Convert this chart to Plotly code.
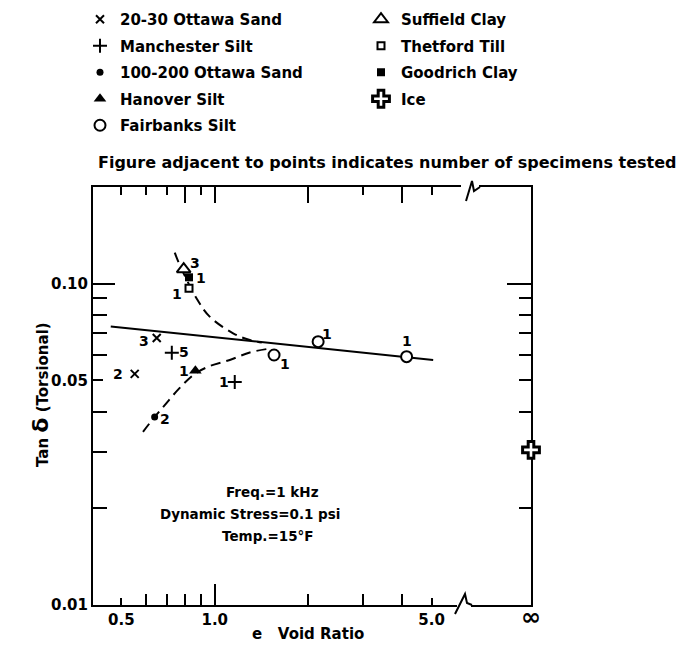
import numpy as np
import plotly.graph_objects as go

# ---------------- data ----------------
sand2030_e = [0.650, 0.552]
sand2030_tan = [0.0678, 0.0524]
sand2030_n = ["3", "2"]

manchester_e = [0.727, 1.16]
manchester_tan = [0.061, 0.0494]
manchester_n = ["5", "1"]

sand100_e = [0.640]
sand100_tan = [0.0385]
sand100_n = ["2"]

hanover_e = [0.866]
hanover_tan = [0.0536]
hanover_n = ["1"]

fairbanks_e = [1.553, 2.154, 4.154]
fairbanks_tan = [0.060, 0.066, 0.0593]
fairbanks_n = ["1", "1", "1"]

suffield_e = [0.794]
suffield_tan = [0.111]
suffield_n = ["3"]

thetford_e = [0.826]
thetford_tan = [0.0968]
thetford_n = ["1"]

goodrich_e = [0.826]
goodrich_tan = [0.1047]
goodrich_n = ["1"]

E_INF = 10.46          # axis position used for e = infinity
ice_e = [E_INF]
ice_tan = [0.0304]

trend_e = [0.462, 5.06]
trend_tan = [0.0736, 0.0579]

upper_e = [0.743, 0.771, 0.873, 0.963, 1.146, 1.297, 1.418]
upper_tan = [0.1249, 0.1144, 0.0901, 0.0790, 0.0701, 0.0668, 0.0656]

lower_e = [0.587, 0.640, 0.690, 0.771, 0.862, 0.963, 1.118, 1.297, 1.471]
lower_tan = [0.0346, 0.0385, 0.0419, 0.0474, 0.0524, 0.0554, 0.0579, 0.0611, 0.0626]

x_tick_vals = [0.5, 1.0, 5.0, E_INF]
x_tick_text = ["0.5", "1.0", "5.0", "<span style='font-size:24px'>∞</span>"]
y_tick_vals = [0.01, 0.05, 0.1]
y_tick_text = ["0.01", "0.05", "0.10"]

# ---------------- styling ----------------
OFF = 8                       # page body margin of the html page
W, H = 686 - OFF, 655 - OFF
L, R, T, B = 85, 155, 179, 50
FONT = "DejaVu Sans"
INK = "black"
xr = [np.log10(0.405), np.log10(E_INF)]
yr = [-2, np.log10(0.2)]
PLOT_H = H - T - B


def px(xs, ys):
    """screen pixel (reference picture) -> paper coordinates"""
    return ((xs - OFF) - L) / (W - L - R), 1 - ((ys - OFF) - T) / PLOT_H


def bfont(size):
    return dict(family=FONT, size=size, color=INK, weight="bold")


fig = go.Figure()

# curves
fig.add_trace(go.Scatter(x=trend_e, y=trend_tan, mode="lines",
                         line=dict(color=INK, width=2), showlegend=False, hoverinfo="skip"))
fig.add_trace(go.Scatter(x=upper_e, y=upper_tan, mode="lines", line_shape="spline",
                         line=dict(color=INK, width=2, dash="10px,6px"), showlegend=False,
                         hoverinfo="skip"))
fig.add_trace(go.Scatter(x=lower_e, y=lower_tan, mode="lines", line_shape="spline",
                         line=dict(color=INK, width=2, dash="10px,6px"), showlegend=False,
                         hoverinfo="skip"))


def pts(x, y, name, symbol, size, color=INK, lw=2, lc=INK, legend="legend"):
    fig.add_trace(go.Scatter(
        x=x, y=y, mode="markers", name=name, legend=legend, legendgroup=name,
        cliponaxis=False,
        marker=dict(symbol=symbol, size=size, color=color, line=dict(color=lc, width=lw))))


pts(sand2030_e, sand2030_tan, "20-30 Ottawa Sand", "x-thin", 8, lw=2)
pts(manchester_e, manchester_tan, "Manchester Silt", "cross-thin", 10, lw=2)
pts(sand100_e, sand100_tan, "100-200 Ottawa Sand", "circle", 7, lw=0)
pts(hanover_e, hanover_tan, "Hanover Silt", "triangle-up", 11, lw=0)
pts(fairbanks_e, fairbanks_tan, "Fairbanks Silt", "circle", 11, color="white", lw=2)
pts(suffield_e, suffield_tan, "Suffield Clay", "triangle-up", 12, color="white", lw=2, legend="legend2")
pts(thetford_e, thetford_tan, "Thetford Till", "square", 7, color="white", lw=2, legend="legend2")
pts(goodrich_e, goodrich_tan, "Goodrich Clay", "square", 8, lw=0, legend="legend2")
pts(ice_e, ice_tan, "Ice", "cross", 14, color="white", lw=3, legend="legend2")

# dummy traces so the overlay axes (extra tick marks) are drawn
fig.add_trace(go.Scatter(x=[], y=[], xaxis="x2", yaxis="y2", showlegend=False))
fig.add_trace(go.Scatter(x=[], y=[], xaxis="x3", yaxis="y3", showlegend=False))

# specimen-count labels (offsets in px)
label_sets = [
    (sand2030_e, sand2030_tan, sand2030_n, [(-13, -3), (-17, 0)]),
    (manchester_e, manchester_tan, manchester_n, [(12, 1), (-11, 0)]),
    (sand100_e, sand100_tan, sand100_n, [(10, -2)]),
    (hanover_e, hanover_tan, hanover_n, [(-11, 0)]),
    (fairbanks_e, fairbanks_tan, fairbanks_n, [(11, -9), (9, 8), (0, 16)]),
    (suffield_e, suffield_tan, suffield_n, [(11, 6)]),
    (thetford_e, thetford_tan, thetford_n, [(-12, -6)]),
    (goodrich_e, goodrich_tan, goodrich_n, [(12, -1)]),
]
for xs, ys, ns, offs in label_sets:
    for xv, yv, n, (dx, dy) in zip(xs, ys, ns, offs):
        fig.add_annotation(x=np.log10(xv), y=np.log10(yv), text=n, showarrow=False,
                           xshift=dx, yshift=dy, font=bfont(14))


def note(txt, xs, ys, size, xanchor="center", angle=0):
    u, v = px(xs, ys)
    fig.add_annotation(xref="paper", yref="paper", x=u, y=v, text=txt, showarrow=False,
                       xanchor=xanchor, yanchor="middle", textangle=angle, font=bfont(size))


# condition notes
note("Freq.=1 kHz", 272, 492, 13.5)
note("Dynamic Stress=0.1 psi", 250, 514, 13.5)
note("Temp.=15°F", 268, 536, 13.5)
note("Figure adjacent to points indicates number of specimens tested", 96, 162, 16, xanchor="left")

# axis titles
note("e   Void Ratio", 308, 634, 15)
note("Tan <span style='font-size:22px'>δ</span> (Torsional)", 40, 395, 15, angle=-90)

# axis breaks (decoration in pixel-space, converted to paper units)
for (x0, x1, yc) in [(461, 479, 187), (457, 471, 605)]:
    a = px(x0, yc - 4)
    b = px(x1, yc + 4)
    fig.add_shape(type="rect", xref="paper", yref="paper", x0=a[0], x1=b[0], y0=b[1], y1=a[1],
                  fillcolor="white", line=dict(width=0), layer="above")
for pts_ in [[(466, 201), (472, 181), (474, 191), (480, 187)],
             [(455, 614), (465, 594), (467, 603), (472, 605)]]:
    p = [px(*q) for q in pts_]
    path = "M " + " L ".join(f"{u_:.5f},{v_:.5f}" for u_, v_ in p)
    fig.add_shape(type="path", xref="paper", yref="paper", path=path,
                  line=dict(color=INK, width=2), layer="above")

common = dict(type="log", showgrid=False, zeroline=False, linecolor=INK, tickcolor=INK)

LEG_TOP = 1 + (T + 5) / PLOT_H   # legend top a few px above the figure edge (paper units)

fig.update_layout(
    width=W, height=H, margin=dict(l=L, r=R, t=T, b=B, autoexpand=False),
    paper_bgcolor="white", plot_bgcolor="white",
    font=dict(family=FONT, size=15, color=INK),
    xaxis=dict(**common, range=xr, showline=True, linewidth=2, ticks="inside",
               tickvals=x_tick_vals, ticktext=x_tick_text, ticklen=7, tickwidth=1.5,
               tickfont=bfont(15),
               minor=dict(tickvals=[0.6, 0.7, 0.8, 0.9, 2, 3, 4], ticks="inside", ticklen=11,
                          tickwidth=1.5, tickcolor=INK, showgrid=False)),
    xaxis2=dict(**common, range=xr, overlaying="x", side="top", anchor="y2", showline=True,
                linewidth=2, ticks="inside", tickvals=[0.8, 1, 2, 4], ticklen=16, tickwidth=1.5,
                showticklabels=False,
                minor=dict(tickvals=[0.5, 0.6, 0.7, 0.9, 3, 5], ticks="inside", ticklen=8,
                           tickwidth=1.5, tickcolor=INK, showgrid=False)),
    xaxis3=dict(**common, range=xr, overlaying="x", side="bottom", anchor="y3", showline=False,
                ticks="inside", tickvals=[1.0], ticklen=21, tickwidth=1.5, showticklabels=False),
    yaxis=dict(**common, range=yr, showline=True, linewidth=2, ticks="inside",
               tickvals=y_tick_vals, ticktext=y_tick_text, ticklen=10, tickwidth=1.5,
               tickfont=bfont(15),
               minor=dict(tickvals=[0.02, 0.03, 0.04, 0.06, 0.07, 0.08, 0.09], ticks="inside",
                          ticklen=14, tickwidth=1.5, tickcolor=INK, showgrid=False)),
    yaxis2=dict(**common, range=yr, overlaying="y", side="right", anchor="x2", showline=True,
                linewidth=2, ticks="inside", tickvals=[0.1], ticklen=24, tickwidth=1.5,
                showticklabels=False, layer="below traces",
                minor=dict(tickvals=[0.02, 0.04, 0.05, 0.06, 0.07, 0.08, 0.09], ticks="inside",
                           ticklen=12, tickwidth=1.5, tickcolor=INK, showgrid=False)),
    yaxis3=dict(**common, range=yr, overlaying="y", side="left", anchor="x3", showline=False,
                ticks="inside", tickvals=[0.1], ticklen=22, tickwidth=1.5, showticklabels=False),
    legend=dict(xref="container", yref="paper", x=72 / W, y=LEG_TOP,
                xanchor="left", yanchor="top", bgcolor="rgba(0,0,0,0)", borderwidth=0,
                tracegroupgap=4, font=bfont(15)),
    legend2=dict(xref="container", yref="paper", x=353 / W, y=LEG_TOP,
                 xanchor="left", yanchor="top", bgcolor="rgba(0,0,0,0)", borderwidth=0,
                 tracegroupgap=4, font=bfont(15)),
)

fig.write_html("out.html")
